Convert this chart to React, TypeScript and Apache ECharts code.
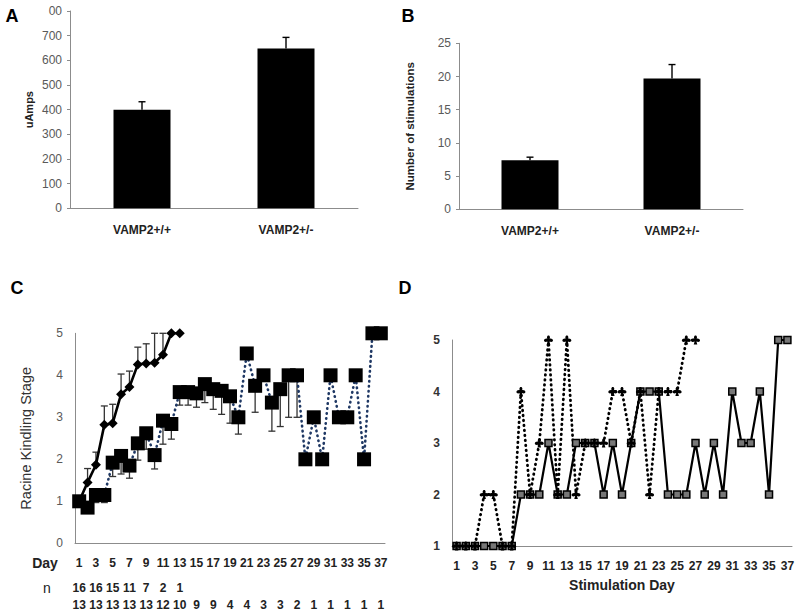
import React, { useEffect, useRef } from "react";
import * as echarts from "echarts";

// Panel A
const genotypes = ["VAMP2+/+", "VAMP2+/-"];
const ampsMean = [400, 648];
const ampsErr = [32, 45];
// Panel B
const stimMean = [7.4, 19.7];
const stimErr = [0.45, 2.1];
// Panel C
const days = ["1","2","3","4","5","6","7","8","9","10","11","12","13","14","15","16","17","18","19","20","21","22","23","24","25","26","27","28","29","30","31","32","33","34","35","36","37"];
const fastMean = [1.0, 1.45, 1.87, 2.82, 2.86, 3.55, 3.72, 4.26, 4.28, 4.3, 4.49, 5.0, 5.0];
const fastErr = [0, 0.33, 0.3, 0.45, 0.45, 0.48, 0.38, 0.41, 0.47, 0.7, 0.51, 0, 0];
const slowMean = [1.0, 0.85, 1.15, 1.15, 1.92, 2.08, 1.85, 2.38, 2.62, 2.1, 2.92, 2.84, 3.6, 3.6, 3.57, 3.79, 3.67, 3.63, 3.5, 3.0, 4.52, 3.75, 4.0, 3.35, 3.67, 4.0, 4.0, 2, 3, 2, 4, 3, 3, 4, 2, 5, 5];
const slowErr = [0, 0, 0.18, 0.18, 0.33, 0.43, 0.3, 0.4, 0.38, 0.33, 0.56, 0.36, 0.31, 0.31, 0.33, 0.44, 0.48, 0.56, 0.64, 0.4, 0, 0.63, 0, 0.68, 0.89, 1.0, 1.0, 0, 0, 0, 0, 0, 0, 0, 0, 0, 0];
// n per odd day
const nRow1 = ["16", "16", "15", "11", "7", "2", "1"];
const nRow2 = ["13", "13", "13", "13", "13", "12", "10", "9", "9", "4", "4", "3", "3", "2", "1", "1", "1", "1", "1"];
// Panel D
const dSolid = [1, 1, 1, 1, 1, 1, 1, 2, 2, 2, 3, 2, 2, 3, 3, 3, 2, 3, 2, 3, 4, 4, 4, 2, 2, 2, 3, 2, 3, 2, 4, 3, 3, 4, 2, 5, 5];
const dDotted = [1, 1, 1, 2, 2, 1, 1, 4, 2, 3, 5, 2, 5, 2, 3, 3, 3, 4, 4, 3, 4, 2, 4, 4, 4, 5, 5];

const FONT = "Liberation Sans";
const clubPath =
  "path://M5,0 C7,0 7,3 6,3.6 C8,3 10,4 10,5.6 C10,7.2 8,7.6 6,6.6 L7,10 L3,10 L4,6.6 C2,7.6 0,7.2 0,5.6 C0,4 2,3 4,3.6 C3,3 3,0 5,0 Z";

function errSeries(xi: number, yi: number, data: number[][], capAt: "hi" | "lo", capW: number, color: string, lw: number) {
  return {
    type: "custom",
    xAxisIndex: xi,
    yAxisIndex: yi,
    silent: true,
    data,
    renderItem: (params: any, api: any) => {
      const x = api.value(0);
      const p1 = api.coord([x, api.value(1)]);
      const p2 = api.coord([x, api.value(2)]);
      const c = capAt === "hi" ? p2 : p1;
      const style = { stroke: color, lineWidth: lw };
      return {
        type: "group",
        children: [
          { type: "line", shape: { x1: p1[0], y1: p1[1], x2: p2[0], y2: p2[1] }, style },
          { type: "line", shape: { x1: c[0] - capW / 2, y1: c[1], x2: c[0] + capW / 2, y2: c[1] }, style },
        ],
      };
    },
  };
}

export default function App() {
  const ref = useRef<HTMLDivElement>(null);
  useEffect(() => {
    if (!ref.current) return;
    const chart = echarts.init(ref.current, null, { renderer: "svg" });
    const gray = "#8c8c8c";
    const tickLbl = { color: "#595959", fontSize: 12, fontFamily: FONT };
    const boldLbl = { color: "#222", fontSize: 12, fontWeight: "bold", fontFamily: FONT };
    const cLbl = { color: "#222", fontSize: 12, fontWeight: "bold", fontFamily: FONT };

    const aErr = ampsMean.map((m, i) => [i, m, m + ampsErr[i]]);
    const bErr = stimMean.map((m, i) => [i, m, m + stimErr[i]]);
    const fErr = fastMean.map((m, i) => [i, m, m + fastErr[i]]).filter((d, i) => fastErr[i] > 0);
    const sErr = slowMean.map((m, i) => [i, m - slowErr[i], m]).filter((d, i) => slowErr[i] > 0);
    const n1 = days.map((d, i) => (i % 2 === 0 ? nRow1[i / 2] ?? "" : ""));
    const n2 = days.map((d, i) => (i % 2 === 0 ? nRow2[i / 2] ?? "" : ""));

    const panelLabel = (t: string, x: number, y: number) => ({
      type: "text",
      x,
      y,
      style: { text: t, font: `bold 18px ${FONT}`, fill: "#000", textAlign: "center", textVerticalAlign: "middle" },
    });

    chart.setOption({
      animation: false,
      backgroundColor: "#fff",
      grid: [
        { left: 70, top: 11, width: 288, height: 197.3 },
        { left: 459, top: 43.3, width: 284, height: 166 },
        { left: 75, top: 333.3, width: 310, height: 210 },
        { left: 452, top: 340, width: 340, height: 206 },
      ],
      xAxis: [
        {
          type: "category", gridIndex: 0, data: genotypes,
          axisLine: { lineStyle: { color: gray } }, axisTick: { show: false },
          axisLabel: { ...boldLbl, margin: 16 },
        },
        {
          type: "category", gridIndex: 1, data: genotypes,
          axisLine: { lineStyle: { color: gray } }, axisTick: { show: false },
          axisLabel: { ...boldLbl, margin: 16 },
        },
        {
          type: "category", gridIndex: 2, data: days,
          axisLine: { lineStyle: { color: gray } }, axisTick: { show: false },
          axisLabel: { ...cLbl, interval: 1, margin: 14 },
        },
        {
          type: "category", gridIndex: 2, data: n1, position: "bottom", offset: 25,
          axisLine: { show: false }, axisTick: { show: false },
          axisLabel: { ...cLbl, interval: 0, margin: 14 },
        },
        {
          type: "category", gridIndex: 2, data: n2, position: "bottom", offset: 42,
          axisLine: { show: false }, axisTick: { show: false },
          axisLabel: { ...cLbl, interval: 0, margin: 14 },
        },
        {
          type: "category", gridIndex: 3, data: days,
          name: "Stimulation Day", nameLocation: "middle", nameGap: 32,
          nameTextStyle: { color: "#222", fontSize: 14, fontWeight: "bold", fontFamily: FONT },
          axisLine: { lineStyle: { color: gray } }, axisTick: { show: false },
          axisLabel: { ...cLbl, interval: 1, margin: 14 },
        },
      ],
      yAxis: [
        {
          type: "value", gridIndex: 0, min: 0, max: 800, interval: 100,
          name: "uAmps", nameLocation: "middle", nameGap: 36,
          nameTextStyle: { color: "#222", fontSize: 11, fontWeight: "bold", fontFamily: FONT },
          axisLine: { show: true, lineStyle: { color: gray } }, axisTick: { show: true, length: 3, lineStyle: { color: gray } },
          splitLine: { show: false },
          axisLabel: { ...tickLbl, margin: 8, formatter: (v: number) => (v === 800 ? "00" : String(v)) },
        },
        {
          type: "value", gridIndex: 1, min: 0, max: 25, interval: 5,
          name: "Number of stimulations", nameLocation: "middle", nameGap: 43,
          nameTextStyle: { color: "#222", fontSize: 11.5, fontWeight: "bold", fontFamily: FONT },
          axisLine: { show: true, lineStyle: { color: gray } }, axisTick: { show: true, length: 3, lineStyle: { color: gray } },
          splitLine: { show: false },
          axisLabel: { ...tickLbl, margin: 8 },
        },
        {
          type: "value", gridIndex: 2, min: 0, max: 5, interval: 1,
          name: "Racine Kindling Stage", nameLocation: "middle", nameGap: 42,
          nameTextStyle: { color: "#333", fontSize: 14.5, fontFamily: FONT },
          axisLine: { show: true, lineStyle: { color: gray } }, axisTick: { show: false },
          splitLine: { show: false },
          axisLabel: { ...tickLbl, margin: 12 },
        },
        {
          type: "value", gridIndex: 3, min: 1, max: 5, interval: 1,
          axisLine: { show: true, lineStyle: { color: gray } }, axisTick: { show: false },
          splitLine: { show: false },
          axisLabel: { color: "#333", fontSize: 12, fontWeight: "bold", fontFamily: FONT, margin: 12 },
        },
      ],
      series: [
        { type: "bar", xAxisIndex: 0, yAxisIndex: 0, data: ampsMean, barWidth: 57, itemStyle: { color: "#000" } },
        errSeries(0, 0, aErr, "hi", 7, "#000", 1.4),
        { type: "bar", xAxisIndex: 1, yAxisIndex: 1, data: stimMean, barWidth: 57, itemStyle: { color: "#000" } },
        errSeries(1, 1, bErr, "hi", 7, "#000", 1.4),
        errSeries(2, 2, fErr, "hi", 7, "#333", 1.3),
        errSeries(2, 2, sErr, "lo", 7, "#333", 1.3),
        {
          type: "line", xAxisIndex: 2, yAxisIndex: 2, data: fastMean,
          showAllSymbol: true,
          symbol: "diamond", symbolSize: 10, itemStyle: { color: "#000" },
          lineStyle: { color: "#000", width: 2.6 },
        },
        {
          type: "line", xAxisIndex: 2, yAxisIndex: 2, data: slowMean,
          showAllSymbol: true,
          symbol: "rect", symbolSize: 14, itemStyle: { color: "#000" },
          lineStyle: { color: "#1f3864", width: 2.6, type: [0.5, 4.5], cap: "round" },
        },
        {
          type: "line", xAxisIndex: 5, yAxisIndex: 3, data: dSolid,
          showAllSymbol: true,
          symbol: "rect", symbolSize: 7, itemStyle: { color: "#777", borderColor: "#000", borderWidth: 1.5 },
          lineStyle: { color: "#000", width: 2.2 },
        },
        {
          type: "line", xAxisIndex: 5, yAxisIndex: 3, data: dDotted,
          showAllSymbol: true,
          symbol: clubPath, symbolSize: 9, itemStyle: { color: "#000" },
          lineStyle: { color: "#000", width: 2.8, type: [0.5, 4.5], cap: "round" },
        },
      ],
      graphic: [
        panelLabel("A", 12, 16),
        panelLabel("B", 408, 16),
        panelLabel("C", 17, 288),
        panelLabel("D", 405, 288),
        { type: "text", x: 45, y: 563, style: { text: "Day", font: `bold 14px ${FONT}`, fill: "#222", textAlign: "center", textVerticalAlign: "middle" } },
        { type: "text", x: 47, y: 588, style: { text: "n", font: `14px ${FONT}`, fill: "#222", textAlign: "center", textVerticalAlign: "middle" } },
      ],
    });
    return () => chart.dispose();
  }, []);
  return (
    <div
      ref={ref}
      style={{ position: "absolute", left: 0, top: 0, width: 800, height: 616, background: "#fff" }}
    />
  );
}
